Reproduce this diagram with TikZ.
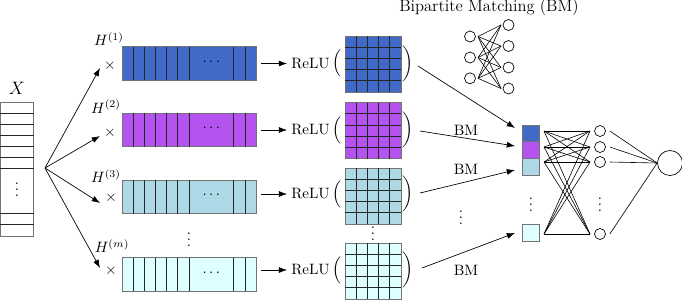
\documentclass[tikz,border=0pt]{standalone}
\usetikzlibrary{arrows.meta,calc}
\definecolor{cA}{RGB}{65,105,200}
\definecolor{cB}{RGB}{181,83,240}
\definecolor{cC}{RGB}{173,216,230}
\definecolor{cD}{RGB}{222,255,255}
\newcommand\pxu{0.6667pt}
\newcommand\myvdots{\vbox{\baselineskip4pt\lineskiplimit0pt\hbox{.}\hbox{.}\hbox{.}}}
\begin{document}
\begin{tikzpicture}[x=0.6667pt,y=-0.6667pt,
  box/.style={draw=black!55, line width=0.5pt, inner sep=0pt, outer sep=0pt, anchor=north west},
  gridln/.style={black!85, line width=0.45pt},
  arr/.style={-{Latex[length=5.5pt,width=4pt]}, line width=0.45pt},
  lnk/.style={line width=0.4pt},
  neuron/.style={circle, draw, line width=0.45pt, inner sep=0pt, minimum size=11*\pxu},
  lbl/.style={inner sep=0pt}
]
\useasboundingbox (0,0) rectangle (682,303);

% input X
\node[lbl, font=\large] (xl) at (17,88) {$X$};
\node[box, minimum width=33*\pxu, minimum height=134*\pxu] (xc) at (0.5,102) {};
\foreach \yy in {11,22,33,44,55,66,111,122}
  \draw[gridln] ($(xc.north west)+(0,\yy)$) -- ($(xc.north east)+(0,\yy)$);
\node[lbl] (xd) at (17,190) {\myvdots};
\coordinate (br) at (45,168);

% H labels and times
\node[lbl] (h1) at (109,39) {$H^{(1)}$};
\node[lbl] (h2) at (106,106.5) {$H^{(2)}$};
\node[lbl] (h3) at (106,176) {$H^{(3)}$};
\node[lbl] (h4) at (112,246) {$H^{(m)}$};
\node[lbl] (x1) at (110,66) {$\times$};
\node[lbl] (x2) at (110,133) {$\times$};
\node[lbl] (x3) at (111,198) {$\times$};
\node[lbl] (x4) at (111,271) {$\times$};
\coordinate (t1) at (100,68);
\coordinate (t2) at (100,136);
\coordinate (t3) at (100,203);
\coordinate (t4) at (100,268);
\foreach \i in {1,...,4} \draw[arr] (br) -- (t\i);

% bars
\foreach \n/\ty/\cc in {1/46.7/cA,2/113.3/cB,3/180/cC,4/257.7/cD}{
  \node[box, fill=\cc, minimum width=134*\pxu, minimum height=33.5*\pxu] (bar\n) at (122,\ty) {};
  \foreach \k in {1,2,3,4,5,6,10,11}
    \draw[gridln] ($(bar\n.north west)+(\k*11.1667,0)$) -- ($(bar\n.south west)+(\k*11.1667,0)$);
  \node[lbl] (bd\n) at ($(bar\n.west)+(89.3,-1.5)$) {$\cdots$};
}
\node[lbl] (bv) at (189,240) {\myvdots};

% matrices
\foreach \n/\ty/\cc in {1/36/cA,2/102.5/cB,3/168/cC,4/243/cD}{
  \node[box, fill=\cc, minimum size=56*\pxu] (m\n) at (345,\ty) {};
  \foreach \k in {1,...,4}{
    \draw[gridln] ($(m\n.north west)+(\k*11.2,0)$) -- ($(m\n.south west)+(\k*11.2,0)$);
    \draw[gridln] ($(m\n.north west)+(0,\k*11.2)$) -- ($(m\n.north east)+(0,\k*11.2)$);
  }
}
\node[lbl] (mv) at (373,233.5) {\myvdots};

% ReLU rows
\foreach \n/\yr in {1/63.5,2/130,3/194,4/270}{
  \node[lbl] (r\n) at (310.5,\yr) {ReLU};
  \node[lbl] (lp\n) at (337,\yr) {$\Big($};
  \node[lbl] (rp\n) at (408,\yr) {$\bigg)$};
  \draw[arr] ($(bar\n.east |- r\n.west)+(5,0)$) -- ($(r\n.west)+(-4,0)$);
}

% column vector
\node[box, fill=cA, minimum width=17*\pxu, minimum height=16.7*\pxu] (v1) at (522,125) {};
\node[box, fill=cB, minimum width=17*\pxu, minimum height=16.7*\pxu] (v2) at (522,141.7) {};
\node[box, fill=cC, minimum width=17*\pxu, minimum height=16.7*\pxu] (v3) at (522,158.3) {};
\node[box, fill=cD, minimum width=17*\pxu, minimum height=17.3*\pxu] (v4) at (522,224.3) {};
\node[lbl] (vv) at (531,205) {\myvdots};

% arrows to column vector
\coordinate (s1) at (418,66);
\coordinate (s2) at (420,131);
\coordinate (s3) at (420,193);
\coordinate (s4) at (422,268);
\coordinate (e1) at (515,128);
\coordinate (e2) at (515,146);
\coordinate (e3) at (515,170);
\coordinate (e4) at (515,233);
\foreach \i in {1,...,4} \draw[arr] (s\i) -- (e\i);
\node[lbl] (bm1) at (466,130) {BM};
\node[lbl] (bm2) at (466,169) {BM};
\node[lbl] (bm3) at (466,270) {BM};
\node[lbl] (av) at (461,218) {\myvdots};

% fully connected
\foreach \i/\yy in {1/131,2/147,3/162,4/234}{
  \coordinate (fl\i) at (544,\yy);
  \coordinate (fr\i) at (590,\yy);
  \node[neuron] (n\i) at (600,\yy) {};
}
\foreach \i in {1,...,4}
  \foreach \j in {1,...,4}
    \draw[lnk] (fl\i) -- (fr\j);
\node[lbl] (nv) at (600,205) {\myvdots};
\node[circle, draw, line width=0.45pt, inner sep=0pt, minimum size=25*\pxu] (out) at (670,163) {};
\foreach \i in {1,...,4} \draw[lnk] ($(n\i.east)+(4,0)$) -- (out.west);

% bipartite matching illustration
\node[lbl, font=\fontsize{11}{13}\selectfont] (title) at (489,7.5) {Bipartite Matching (BM)};
\foreach \i/\yy in {1/36.5,2/57.5,3/78.3}{
  \node[neuron] (bl\i) at (470,\yy) {};
  \coordinate (pl\i) at (478,\yy);
}
\foreach \j/\yy in {1/25,2/46,3/67.5,4/88.5}{
  \node[neuron] (bq\j) at (508.5,\yy) {};
  \coordinate (pr\j) at (501,\yy);
}
\foreach \i in {1,2,3}
  \foreach \j in {1,...,4}
    \draw[lnk] (pl\i) -- (pr\j);
\end{tikzpicture}
\end{document}
